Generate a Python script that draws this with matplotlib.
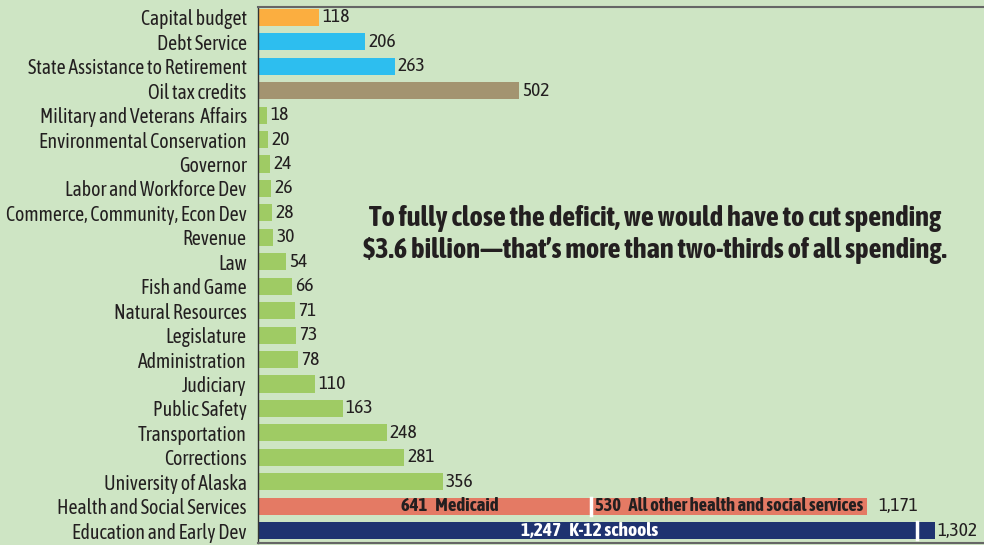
import matplotlib
matplotlib.use('Agg')
from matplotlib import pyplot as plt

plt.rcParams['font.family'] = ['Asap Condensed', 'DejaVu Sans']

categories = ['Capital budget', 'Debt Service', 'State Assistance to Retirement', 'Oil tax credits',
              'Military and Veterans  Affairs', 'Environmental Conservation', 'Governor',
              'Labor and Workforce Dev', 'Commerce, Community, Econ Dev', 'Revenue', 'Law',
              'Fish and Game', 'Natural Resources', 'Legislature', 'Administration', 'Judiciary',
              'Public Safety', 'Transportation', 'Corrections', 'University of Alaska',
              'Health and Social Services', 'Education and Early Dev']
values = [118, 206, 263, 502, 18, 20, 24, 26, 28, 30, 54, 66, 71, 73, 78, 110, 163, 248, 281, 356,
          1171, 1302]
valueLabels = ['118', '206', '263', '502', '18', '20', '24', '26', '28', '30', '54', '66', '71', '73',
               '78', '110', '163', '248', '281', '356', '1,171', '1,302']
groups = ['capital', 'debt', 'debt', 'oil'] + ['agency'] * 16 + ['health', 'education']

healthParts = [641, 530]
healthLabels = ['641   Medicaid', '530   All other health and social services']
educationParts = [1247, 55]
educationLabel = '1,247   K-12 schools'

colors = {'capital': '#fbae40', 'debt': '#2dbeef', 'oil': '#a39470', 'agency': '#9fcb64',
          'health': '#e47a64', 'education': '#1f3370'}
bg = '#cee5c4'
textColor = '#231f20'

fig = plt.figure(figsize=(9.84, 5.45), dpi=100, facecolor=bg)
ax = fig.add_axes([0.262, 0.004, 0.738, 0.983])
ax.set_facecolor(bg)

ys = list(range(len(categories)))
barH = 0.7
for y, v, g, lab in zip(ys, values, groups, valueLabels):
    if g == 'health':
        ax.barh(y, healthParts[0], height=barH, color=colors[g])
        ax.barh(y, healthParts[1], left=healthParts[0], height=barH, color=colors[g])
        ax.plot([healthParts[0], healthParts[0]], [y - barH / 2, y + barH / 2], color='white', lw=2.5)
        ax.text(healthParts[0] - 272, y, healthLabels[0], ha='center', va='center',
                fontsize=13.5, fontweight='bold', color=textColor)
        ax.text(healthParts[0] + 8, y, healthLabels[1], ha='left', va='center',
                fontsize=13.3, fontweight='bold', color=textColor)
        ax.text(v + 22, y, lab, ha='left', va='center', fontsize=14, color=textColor)
    elif g == 'education':
        ax.barh(y, educationParts[0], height=barH, color=colors[g])
        ax.barh(y, educationParts[1], left=educationParts[0], height=barH, color=colors[g])
        ax.plot([educationParts[0] + 20, educationParts[0] + 20], [y - barH / 2, y + barH / 2],
                color='white', lw=2.5)
        ax.text(educationParts[0] / 2 + 15, y, educationLabel, ha='center', va='center',
                fontsize=14, fontweight='bold', color='white')
        ax.text(v + 4, y, lab, ha='left', va='center', fontsize=14, color=textColor)
    else:
        ax.barh(y, v, height=barH, color=colors[g])
        ax.text(v + 6, y, lab, ha='left', va='center', fontsize=14, color=textColor)

ax.set_xlim(0, 1396)
ax.set_ylim(21.5, -0.42)
ax.set_yticks(ys)
ax.set_yticklabels(categories, fontsize=14.2, color=textColor)
ax.tick_params(axis='y', length=0, pad=8)
ax.set_xticks([])
for side in ['top', 'bottom']:
    ax.spines[side].set_color('#666666')
    ax.spines[side].set_linewidth(1.5)
ax.spines['left'].set_color('#333333')
ax.spines['left'].set_linewidth(1)
ax.spines['right'].set_visible(False)

fig.text(0.666, 0.6, 'To fully close the deficit, we would have to cut spending',
         ha='center', va='center', fontsize=20.5, fontweight='bold', color=textColor)
fig.text(0.666, 0.54, '$3.6 billion\u2014that\u2019s more than two-thirds of all spending.',
         ha='center', va='center', fontsize=20.5, fontweight='bold', color=textColor)

fig.savefig('out.png', dpi=100, facecolor=bg)
